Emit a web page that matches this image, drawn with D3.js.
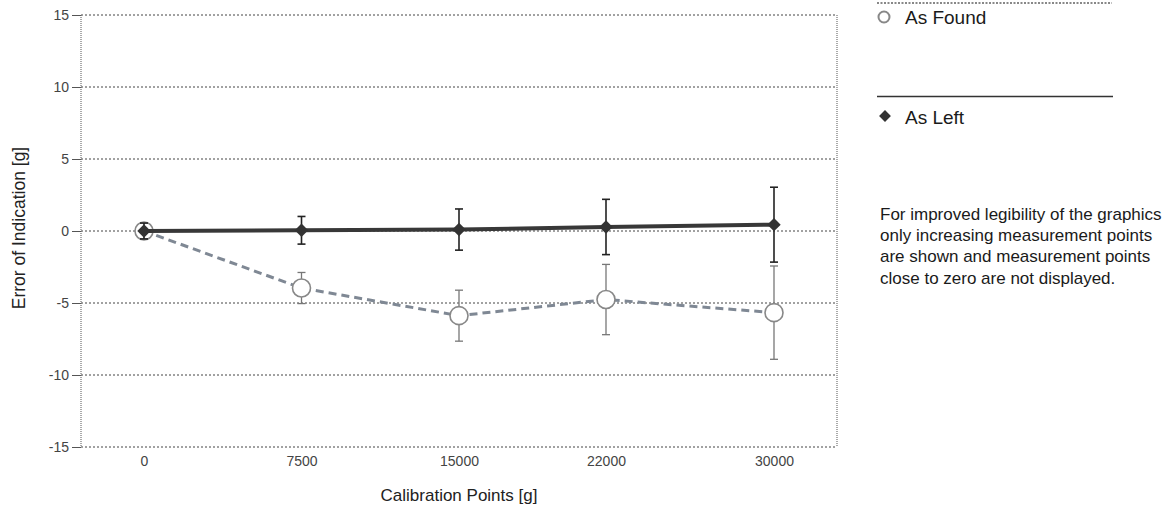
<!DOCTYPE html>
<html>
<head>
<meta charset="utf-8">
<script src="https://cdn.jsdelivr.net/npm/d3@7"></script>
<style>
  body { margin: 0; background: #fff; }
  svg { display: block; font-family: "Liberation Sans", Arial, sans-serif; }
</style>
</head>
<body>
<svg width="1176" height="506"></svg>
<script>
// calibration points and errors
const points = [0, 7500, 15000, 22000, 30000];
const yTicks = [-15, -10, -5, 0, 5, 10, 15];
const asLeft = [0, 0.05, 0.1, 0.28, 0.44];
const asLeftErr = [0.55, 0.96, 1.43, 1.92, 2.6];
const asFound = [0, -3.96, -5.88, -4.76, -5.67];
const asFoundErr = [0, 1.08, 1.77, 2.44, 3.24];
const noteLines = [
  'For improved legibility of the graphics',
  'only increasing measurement points',
  'are shown and measurement points',
  'close to zero are not displayed.',
];

const svg = d3.select('svg');
const font = '"Liberation Sans", Arial, sans-serif';
const plot = {left: 81, right: 837, top: 15, bottom: 447};

const x = d3.scaleLinear().domain([-3000, 33000]).range([plot.left, plot.right]);
const y = d3.scaleLinear().domain([-15, 15]).range([plot.bottom, plot.top]);

// gridlines
svg.append('g').selectAll('line').data(yTicks).join('line')
  .attr('x1', plot.left).attr('x2', plot.right)
  .attr('y1', d => y(d)).attr('y2', d => y(d))
  .attr('stroke', '#444').attr('stroke-width', 1)
  .attr('stroke-dasharray', '2,2');

// frame: left axis and right border
svg.append('line').attr('x1', plot.left).attr('x2', plot.left)
  .attr('y1', plot.top).attr('y2', plot.bottom)
  .attr('stroke', '#555').attr('stroke-dasharray', '1,1');
svg.append('line').attr('x1', plot.right).attr('x2', plot.right)
  .attr('y1', plot.top).attr('y2', plot.bottom)
  .attr('stroke', '#555').attr('stroke-dasharray', '1,1');

// y axis (plain hyphen for negatives, like the original)
const yAxis = svg.append('g')
  .attr('transform', 'translate(' + plot.left + ',0)')
  .call(d3.axisLeft(y).tickValues(yTicks).tickFormat(d => String(d)).tickSize(9).tickPadding(3));
yAxis.select('.domain').remove();
yAxis.selectAll('line').attr('stroke', '#555');
yAxis.selectAll('text').attr('font-size', 14).attr('fill', '#444').attr('font-family', font);

// x axis
const xAxis = svg.append('g')
  .attr('transform', 'translate(0,' + plot.bottom + ')')
  .call(d3.axisBottom(x).tickValues(points).tickFormat(d => String(d)).tickSize(0).tickPadding(9));
xAxis.select('.domain').remove();
xAxis.selectAll('text').attr('font-size', 14).attr('fill', '#444').attr('font-family', font);

// axis titles
svg.append('text').attr('x', 459).attr('y', 501)
  .attr('text-anchor', 'middle').attr('font-size', 17).attr('fill', '#222')
  .text('Calibration Points [g]');
svg.append('text')
  .attr('transform', 'translate(25,228) rotate(-90)')
  .attr('text-anchor', 'middle').attr('font-size', 17.5).attr('fill', '#222')
  .text('Error of Indication [g]');

const rows = points.map((p, i) => ({
  p, left: asLeft[i], leftErr: asLeftErr[i], found: asFound[i], foundErr: asFoundErr[i],
}));

function errorBars(g, val, err, color, width) {
  const bars = g.selectAll('g').data(rows.filter(d => d[err] > 0)).join('g');
  bars.append('line')
    .attr('x1', d => x(d.p)).attr('x2', d => x(d.p))
    .attr('y1', d => y(d[val] + d[err])).attr('y2', d => y(d[val] - d[err]))
    .attr('stroke', color).attr('stroke-width', width);
  [1, -1].forEach(s => {
    bars.append('line')
      .attr('x1', d => x(d.p) - 4).attr('x2', d => x(d.p) + 4)
      .attr('y1', d => y(d[val] + s * d[err])).attr('y2', d => y(d[val] + s * d[err]))
      .attr('stroke', color).attr('stroke-width', width);
  });
}

// as found series
const foundLine = d3.line().x(d => x(d.p)).y(d => y(d.found));
svg.append('path').datum(rows).attr('d', foundLine)
  .attr('fill', 'none').attr('stroke', '#7f8894').attr('stroke-width', 3)
  .attr('stroke-dasharray', '8,5');
errorBars(svg.append('g'), 'found', 'foundErr', '#777', 1.3);
svg.append('g').selectAll('circle').data(rows).join('circle')
  .attr('cx', d => x(d.p)).attr('cy', d => y(d.found)).attr('r', 9)
  .attr('fill', '#fff').attr('stroke', '#888').attr('stroke-width', 1.6);

// as left series
const leftLine = d3.line().x(d => x(d.p)).y(d => y(d.left));
svg.append('path').datum(rows).attr('d', leftLine)
  .attr('fill', 'none').attr('stroke', '#383838').attr('stroke-width', 4);
errorBars(svg.append('g'), 'left', 'leftErr', '#222', 1.6);
const diamond = d3.symbol().type(d3.symbolSquare).size(90);
svg.append('g').selectAll('path').data(rows).join('path')
  .attr('d', diamond)
  .attr('transform', d => 'translate(' + x(d.p) + ',' + y(d.left) + ') rotate(45)')
  .attr('fill', '#333');

// legend
const lg = svg.append('g');
lg.append('line').attr('x1', 877).attr('x2', 1112).attr('y1', 3).attr('y2', 3)
  .attr('stroke', '#888').attr('stroke-width', 2).attr('stroke-dasharray', '2,1.5');
lg.append('circle').attr('cx', 884).attr('cy', 17).attr('r', 5.5)
  .attr('fill', '#fff').attr('stroke', '#888').attr('stroke-width', 2);
lg.append('text').attr('x', 905).attr('y', 24).attr('font-size', 19).attr('fill', '#1a1a1a')
  .text('As Found');
lg.append('line').attr('x1', 877).attr('x2', 1113).attr('y1', 96.5).attr('y2', 96.5)
  .attr('stroke', '#333').attr('stroke-width', 1.6);
lg.append('path').attr('d', d3.symbol().type(d3.symbolSquare).size(70))
  .attr('transform', 'translate(885,116) rotate(45)').attr('fill', '#333');
lg.append('text').attr('x', 905).attr('y', 124).attr('font-size', 19).attr('fill', '#1a1a1a')
  .text('As Left');

// note
svg.append('g').selectAll('text').data(noteLines).join('text')
  .attr('x', 880).attr('y', (d, i) => 220 + i * 21.2)
  .attr('font-size', 17).attr('fill', '#1a1a1a')
  .text(d => d);
</script>
</body>
</html>
